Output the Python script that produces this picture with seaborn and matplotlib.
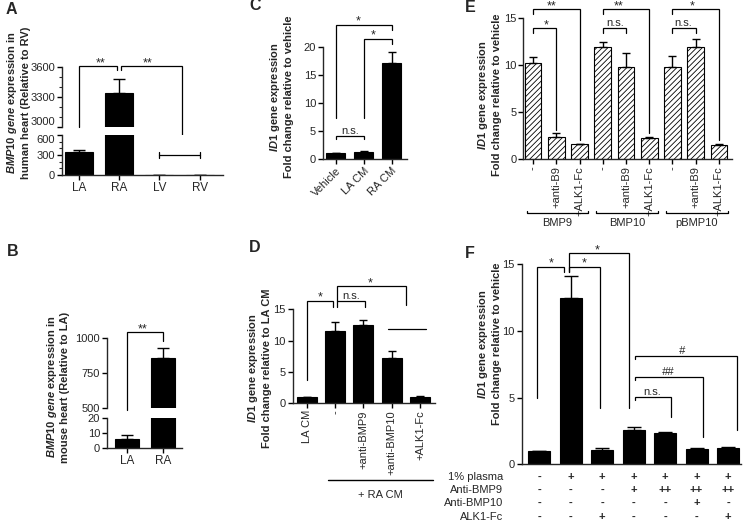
import numpy as np
import pandas as pd
import seaborn as sns
import matplotlib.pyplot as plt
from matplotlib.ticker import MultipleLocator

# ---- data ----
a_regions = ["LA", "RA", "LV", "RV"]
a_mean = [350, 3340, 5, 1]
a_err = [20, 140, 0, 0]

b_regions = ["LA", "RA"]
b_mean = [6, 860]
b_err = [2.7, 68]

c_groups = ["Vehicle", "LA CM", "RA CM"]
c_mean = [1.0, 1.2, 17.0]
c_err = [0.0, 0.1, 2.0]

d_groups = ["LA CM", "-", "+anti-BMP9", "+anti-BMP10", "+ALK1-Fc"]
d_mean = [1.0, 11.6, 12.5, 7.2, 1.05]
d_err = [0.0, 1.3, 0.8, 1.2, 0.08]

e_ligands = ["BMP9", "BMP10", "pBMP10"]
e_treat = ["-", "+anti-B9", "+ALK1-Fc"]
e_mean = [10.28, 2.4, 1.6, 11.98, 9.79, 2.3, 9.79, 11.98, 1.55]
e_err = [0.57, 0.37, 0.05, 0.52, 1.49, 0.1, 1.21, 0.82, 0.08]

f_mean = [1.0, 12.45, 1.07, 2.57, 2.37, 1.15, 1.25]
f_err = [0.0, 1.65, 0.18, 0.2, 0.08, 0.07, 0.05]
f_rows = ["1% plasma", "Anti-BMP9", "Anti-BMP10", "ALK1-Fc"]
f_plasma = ["-", "+", "+", "+", "+", "+", "+"]
f_antib9 = ["-", "-", "-", "+", "++", "++", "++"]
f_antib10 = ["-", "-", "-", "-", "-", "+", "-"]
f_alk1 = ["-", "-", "+", "-", "-", "-", "+"]

sns.set_style("ticks")
plt.rcParams["font.family"] = ["Liberation Sans", "DejaVu Sans"]
plt.rcParams["mathtext.fontset"] = "custom"
plt.rcParams["mathtext.it"] = "Liberation Sans:italic:bold"
plt.rcParams["mathtext.rm"] = "Liberation Sans:bold"
plt.rcParams["axes.linewidth"] = 1.0
plt.rcParams["hatch.linewidth"] = 0.6

W, H = 745, 528
fig = plt.figure(figsize=(W / 100, H / 100), dpi=100)

TICK = 8
LAB = 8


def px_axes(x0, y0, x1, y1):
    return fig.add_axes([x0 / W, 1 - y1 / H, (x1 - x0) / W, (y1 - y0) / H])


def style(ax, size=TICK):
    ax.tick_params(length=3.5, width=1, labelsize=size, pad=1.5, color="black")
    ax.set_xlabel("")
    ax.set_ylabel("")
    sns.despine(ax=ax)


def bars(ax, labels, means, errs, width, capsize):
    df = pd.DataFrame({"cond": [str(i) for i in range(len(labels))], "val": means})
    sns.barplot(data=df, x="cond", y="val", color="black", saturation=1,
                width=width, errorbar=None, edgecolor="black", linewidth=0.8, ax=ax)
    ax.errorbar(np.arange(len(means)), means, yerr=[np.zeros(len(errs)), errs],
                fmt="none", ecolor="black", elinewidth=1, capsize=capsize, capthick=1)


def bracket(ax, x0, x1, y, y0, y1):
    ax.plot([x0, x0, x1, x1], [y0, y, y, y1], color="black", lw=0.9,
            clip_on=False, solid_joinstyle="miter")


def mark(ax, x, y, s, dy=0.0, size=9, **kw):
    ax.annotate(s, (x, y), xytext=(0, dy), textcoords="offset points", ha="center",
                va="baseline", fontsize=size, annotation_clip=False, **kw)


def ns(ax, x, y, s="n.s."):
    mark(ax, x, y, s, dy=1.5, size=8)


def ylab(x, y, s, size=LAB):
    fig.text(x / W, 1 - y / H, s, rotation=90, ha="center", va="center",
             fontweight="bold", fontsize=size)


def letter(x, y, s):
    fig.text(x / W, 1 - y / H, s, ha="center", va="center", fontweight="bold", fontsize=11.5)


# ---------------- A ----------------
a_top = px_axes(62, 67, 223, 127)
a_bot = px_axes(62, 135, 223, 175)
for ax in (a_top, a_bot):
    bars(ax, a_regions, a_mean, a_err, 0.7, 4)
    style(ax)
    ax.set_xlim(-0.42, 3.58)
a_top.set_ylim(3000, 3600)
a_top.set_yticks([3000, 3300, 3600])
a_top.yaxis.set_minor_locator(MultipleLocator(100))
a_top.tick_params(which="minor", length=2, width=0.8)
a_top.spines["bottom"].set_visible(False)
a_top.set_xticks([])
a_bot.set_ylim(0, 600)
a_bot.set_yticks([0, 300, 600])
a_bot.yaxis.set_minor_locator(MultipleLocator(100))
a_bot.tick_params(which="minor", length=2, width=0.8)
a_bot.set_xticks(range(4))
a_bot.set_xticklabels(a_regions, fontsize=8.5)
a_top.get_yticklabels()[0].set_va("bottom")
a_bot.get_yticklabels()[-1].set_va("top")
bracket(a_top, 0, 0.95, 3610, 3000, 3570)
bracket(a_top, 1.05, 2.55, 3610, 3570, 2890)
mark(a_top, 0.55, 3610, "**")
mark(a_top, 1.7, 3610, "**")
a_bot.plot([2, 3], [300, 300], color="black", lw=0.9, clip_on=False)
a_bot.plot([2, 2], [250, 350], color="black", lw=0.9, clip_on=False)
a_bot.plot([3, 3], [250, 350], color="black", lw=0.9, clip_on=False)
ylab(12, 103, "$\\mathit{BMP10\\ gene}$ expression in")
ylab(26, 103, "human heart (Relative to RV)")
letter(11, 10, "A")

# ---------------- B ----------------
b_top = px_axes(107, 338, 182, 408)
b_bot = px_axes(107, 418, 182, 448)
for ax in (b_top, b_bot):
    bars(ax, b_regions, b_mean, b_err, 0.67, 4)
    style(ax)
    ax.set_xlim(-0.55, 1.53)
b_top.set_ylim(500, 1000)
b_top.set_yticks([500, 750, 1000])
b_top.spines["bottom"].set_visible(False)
b_top.set_xticks([])
b_bot.set_ylim(0, 20)
b_bot.set_yticks([0, 10, 20])
b_bot.set_xticks(range(2))
b_bot.set_xticklabels(b_regions, fontsize=8.5)
bracket(b_top, 0, 1, 1043, 486, 981)
mark(b_top, 0.45, 1043, "**")
ylab(52, 387, "$\\mathit{BMP10\\ gene}$ expression in")
ylab(65, 387, "mouse heart (Relative to LA)")
letter(13, 251, "B")

# ---------------- C ----------------
c_ax = px_axes(323, 46.7, 407, 158.7)
bars(c_ax, c_groups, c_mean, c_err, 0.69, 3)
style(c_ax)
c_ax.set_xlim(-0.46, 2.55)
c_ax.set_ylim(0, 20)
c_ax.set_yticks([0, 5, 10, 15, 20])
c_ax.set_xticks(range(3))
c_ax.set_xticklabels(c_groups, rotation=45, ha="right", rotation_mode="anchor")
bracket(c_ax, 0, 2, 23.9, 7.3, 23.0)
bracket(c_ax, 1, 2, 21.4, 7.3, 20.5)
mark(c_ax, 0.8, 23.9, "*")
mark(c_ax, 1.35, 21.4, "*")
bracket(c_ax, 0, 1, 4.1, 3.5, 3.5)
ns(c_ax, 0.5, 4.1)
ylab(275, 97, "$\\mathit{ID1}$ gene expression")
ylab(289, 97, "Fold change relative to vehicle")
letter(255, 6, "C")

# ---------------- D ----------------
d_ax = px_axes(292.7, 309.3, 435, 403.3)
bars(d_ax, d_groups, d_mean, d_err, 0.71, 3)
style(d_ax)
d_ax.set_xlim(-0.5, 4.53)
d_ax.set_ylim(0, 15)
d_ax.set_yticks([0, 5, 10, 15])
d_ax.set_xticks(range(5))
d_ax.set_xticklabels(d_groups, rotation=90)
bracket(d_ax, 0, 0.92, 16.37, 3.7, 15.4)
bracket(d_ax, 1.05, 2.05, 16.37, 15.4, 15.4)
bracket(d_ax, 1.05, 3.5, 18.65, 16.37, 15.7)
mark(d_ax, 0.46, 16.37, "*")
ns(d_ax, 1.58, 16.37)
mark(d_ax, 2.24, 18.65, "*")
d_ax.plot([2.87, 4.22], [11.8, 11.8], color="black", lw=0.9)
d_ax.plot([0.74, 4.45], [-12.2, -12.2], color="black", lw=1, clip_on=False)
d_ax.text(2.6, -14.6, "+ RA CM", ha="center", va="center", fontsize=TICK)
ylab(253, 368, "$\\mathit{ID1}$ gene expression")
ylab(267, 368, "Fold change relative to LA CM")
letter(255, 248, "D")

# ---------------- E ----------------
e_ax = px_axes(523.3, 18.3, 731.7, 159.3)
e_labels = [t for lig in e_ligands for t in e_treat]
bars(e_ax, e_labels, e_mean, e_err, 0.72, 3)
for p in e_ax.patches:
    p.set_facecolor("white")
    p.set_hatch("//////")
    p.set_edgecolor("black")
style(e_ax)
e_ax.set_xlim(-0.42, 8.55)
e_ax.set_ylim(0, 15)
e_ax.set_yticks([0, 5, 10, 15])
e_ax.set_xticks(range(9))
e_ax.set_xticklabels(e_labels, rotation=90)
for g in range(3):
    b = 3 * g
    bracket(e_ax, b, b + 2, 15.96, 15.5, 2.1 if g != 1 else 2.8)
    bracket(e_ax, b, b + 1, 13.94, 13.4, 3.1 if g == 0 else 13.4)
    e_ax.plot([b - 0.28, b - 0.28, b + 2.38, b + 2.38], [-5.5, -5.74, -5.74, -5.5],
              color="black", lw=0.9, clip_on=False)
    e_ax.text(b + 1.05, -6.8, e_ligands[g], ha="center", va="center", fontsize=TICK)
mark(e_ax, 0.8, 15.96, "**")
mark(e_ax, 0.56, 13.94, "*")
mark(e_ax, 3.7, 15.96, "**")
ns(e_ax, 3.55, 13.94)
mark(e_ax, 6.87, 15.96, "*")
ns(e_ax, 6.45, 13.94)
ylab(483, 95, "$\\mathit{ID1}$ gene expression")
ylab(497, 95, "Fold change relative to vehicle")
letter(470, 7, "E")

# ---------------- F ----------------
f_ax = px_axes(521.7, 264.3, 740.7, 464.3)
bars(f_ax, f_mean, f_mean, f_err, 0.7, 5)
style(f_ax)
f_ax.set_xlim(-0.55, 6.4)
f_ax.set_ylim(0, 15)
f_ax.set_yticks([0, 5, 10, 15])
f_ax.set_xticks([])
bracket(f_ax, -0.05, 0.78, 14.82, 4.97, 14.4)
bracket(f_ax, 0.96, 1.95, 14.82, 14.4, 4.22)
bracket(f_ax, 0.96, 2.87, 15.83, 14.4, 4.22)
mark(f_ax, 0.4, 14.82, "*")
mark(f_ax, 1.43, 14.82, "*")
mark(f_ax, 1.85, 15.83, "*")
bracket(f_ax, 3.03, 6.27, 8.12, 7.9, 2.57)
bracket(f_ax, 3.03, 5.2, 6.57, 6.3, 2.07)
bracket(f_ax, 3.03, 4.2, 5.02, 4.8, 3.57)
mark(f_ax, 4.52, 8.12, "#", dy=1.5, size=8, style="italic")
mark(f_ax, 4.08, 6.57, "##", dy=1.5, size=8, style="italic")
ns(f_ax, 3.6, 5.02)
f_table = [f_plasma, f_antib9, f_antib10, f_alk1]
row_y = [-0.98, -1.93, -2.93, -3.93]
for r, row in enumerate(f_table):
    f_ax.text(-1.14, row_y[r], f_rows[r], ha="right", va="center", fontsize=TICK)
    for i, s in enumerate(row):
        f_ax.text(i, row_y[r], s, ha="center", va="center", fontsize=TICK, fontweight="bold")
ylab(483, 344, "$\\mathit{ID1}$ gene expression")
ylab(497, 344, "Fold change relative to vehicle")
letter(470, 253, "F")

fig.savefig("out.png", dpi=100)
